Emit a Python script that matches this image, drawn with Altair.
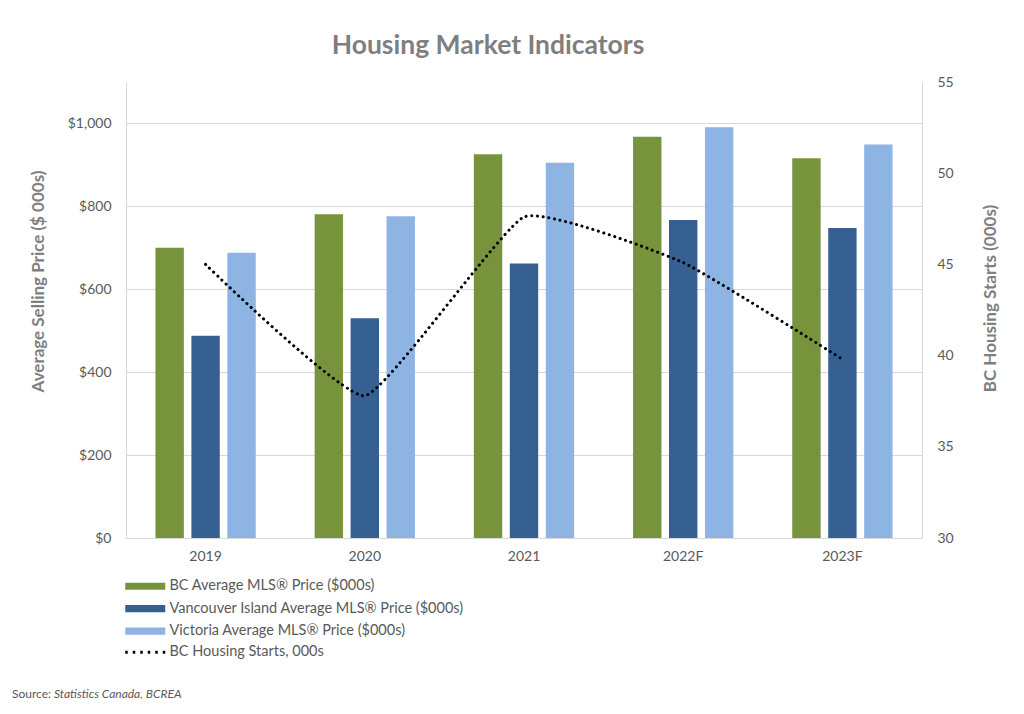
import altair as alt
import pandas as pd

years = ["2019", "2020", "2021", "2022F", "2023F"]
series = [
    "BC Average MLS® Price ($000s)",
    "Vancouver Island Average MLS® Price ($000s)",
    "Victoria Average MLS® Price ($000s)",
]
bc_price = [700, 781, 926, 968, 916]
vi_price = [488, 530, 662, 767, 748]
vic_price = [688, 776, 905, 991, 949]
line_name = "BC Housing Starts, 000s"
starts = [45.0, 37.8, 47.6, 45.1, 39.8]
colors = ["#77933C", "#376092", "#8EB4E3"]
left_ticks = [0, 200, 400, 600, 800, 1000]
right_ticks = [30, 35, 40, 45, 50, 55]

rows = []
for s, vals in zip(series, [bc_price, vi_price, vic_price]):
    for y, v in zip(years, vals):
        rows.append({"year": y, "series": s, "value": v})
bars_df = pd.DataFrame(rows)
line_df = pd.DataFrame({"year": years, "starts": starts, "series": [line_name] * len(years)})
src_df = pd.DataFrame({"a": ["Source:"], "b": ["Statistics Canada, BCREA"]})

FONT = "Lato"
LABEL = "#595959"
TITLE = "#7f7f7f"
GRID = "#d9d9d9"

x_enc = alt.X(
    "year:N",
    sort=years,
    title=None,
    scale=alt.Scale(paddingInner=0.37, paddingOuter=0.185),
    axis=alt.Axis(labelAngle=0, labelFontSize=14, labelColor=LABEL, labelFont=FONT,
                  ticks=False, domainColor=GRID, labelPadding=11),
)

bars = alt.Chart(bars_df).mark_bar().encode(
    x=x_enc,
    xOffset=alt.XOffset("series:N", sort=series, scale=alt.Scale(paddingInner=0.21, paddingOuter=0)),
    y=alt.Y(
        "value:Q",
        scale=alt.Scale(domain=[0, 1100], nice=False),
        axis=alt.Axis(
            values=left_ticks, format="$,.0f", title="Average Selling Price ($ 000s)",
            grid=True, gridColor=GRID, domainColor=GRID, ticks=False,
            labelFontSize=14, labelColor=LABEL, labelFont=FONT, labelPadding=15,
            titleFont=FONT, titleFontSize=17, titleFontWeight="bold", titleColor=TITLE,
            titleX=-88, titleY=199, titleAngle=270, titleBaseline="middle", titleAlign="center",
        ),
    ),
    fill=alt.Fill(
        "series:N",
        sort=series,
        scale=alt.Scale(domain=series, range=colors),
        legend=alt.Legend(
            title=None, orient="none", legendX=12, legendY=497, direction="vertical",
            symbolType="M-4,-0.72H4V0.72H-4Z", symbolSize=100, symbolStrokeWidth=0,
            labelFontSize=14.5, labelColor=LABEL, labelFont=FONT, labelOffset=17,
            labelLimit=500, rowPadding=7.4,
        ),
    ),
)

line = alt.Chart(line_df).mark_line(
    strokeWidth=3, strokeCap="round", strokeDash=[0.1, 5.6], interpolate="cardinal", tension=0.6
).encode(
    x=alt.X("year:N", sort=years),
    y=alt.Y(
        "starts:Q",
        scale=alt.Scale(domain=[30, 55], nice=False),
        axis=alt.Axis(
            orient="right", values=right_ticks, title="BC Housing Starts (000s)",
            grid=False, domainColor=GRID, ticks=False,
            labelFontSize=14, labelColor=LABEL, labelFont=FONT, labelPadding=15,
            titleFont=FONT, titleFontSize=17, titleFontWeight="bold", titleColor=TITLE,
            titleX=68, titleY=216, titleAngle=270, titleBaseline="middle", titleAlign="center",
        ),
    ),
    stroke=alt.Stroke(
        "series:N",
        scale=alt.Scale(domain=[line_name], range=["black"]),
        legend=alt.Legend(
            title=None, orient="none", legendX=12, legendY=563, direction="vertical",
            symbolType="M-4,0H4", symbolSize=100, symbolStrokeWidth=3, symbolDash=[2.5, 5],
            labelFontSize=14.5, labelColor=LABEL, labelFont=FONT, labelOffset=17, labelLimit=500,
        ),
    ),
)

src_a = alt.Chart(src_df).mark_text(align="left", baseline="middle", fontSize=12, font=FONT, color=LABEL).encode(
    x=alt.value(-114), y=alt.value(612), text="a:N"
)
src_b = alt.Chart(src_df).mark_text(align="left", baseline="middle", fontSize=12, font=FONT, color=LABEL,
                                    fontStyle="italic").encode(
    x=alt.value(-72), y=alt.value(612), text="b:N"
)

chart = alt.layer(bars, line, src_a, src_b).resolve_scale(
    y="independent", fill="independent", stroke="independent"
).properties(
    width=796,
    height=456,
    autosize=alt.AutoSizeParams(type="none"),
    padding={"left": 126, "top": 82, "right": 102, "bottom": 176},
    title=alt.TitleParams(
        "Housing Market Indicators", font=FONT, fontSize=26.5, fontWeight="bold", color=TITLE,
        anchor="middle", frame="group", dx=-36, offset=16,
    ),
).configure_view(stroke=None)

chart.save("out.html", embed_options={"renderer": "svg", "actions": False})
